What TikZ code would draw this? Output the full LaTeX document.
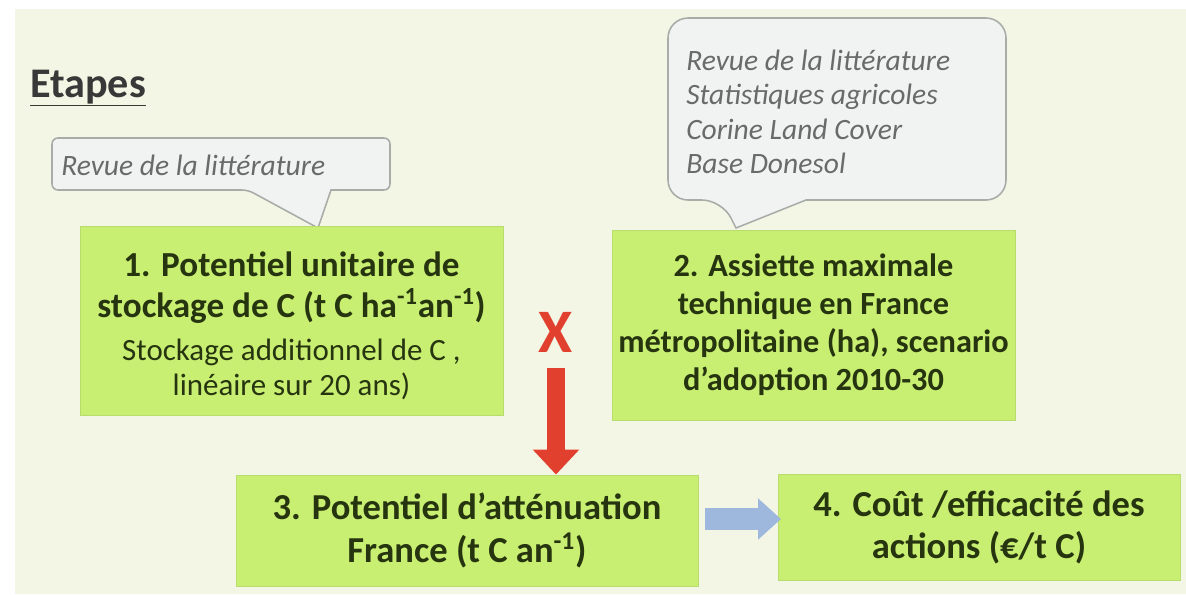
\documentclass[tikz,border=0pt]{standalone}
\usepackage{fontspec}
\setmainfont{Carlito}
\usetikzlibrary{arrows.meta}
\definecolor{bgc}{HTML}{F3F6E4}
\definecolor{boxc}{HTML}{C8EF72}
\definecolor{boxd}{HTML}{B9DC6E}
\definecolor{txtc}{HTML}{26340F}
\definecolor{calf}{HTML}{F1F3F2}
\definecolor{cald}{HTML}{A8ACA8}
\definecolor{calt}{HTML}{6A6A6A}
\definecolor{redc}{HTML}{E2402F}
\definecolor{bluec}{HTML}{9DB8DC}
\tikzset{
  stepbox/.style={rectangle, fill=boxc, draw=boxd, line width=0.6pt, inner sep=0pt, text=txtc, align=center},
  steptext/.style={inner sep=0pt, text=txtc, align=center},
  bfA/.style={font=\bfseries\fontsize{25}{29}\selectfont},
  bfB/.style={font=\bfseries\fontsize{26}{30}\selectfont},
  calloutshape/.style={fill=calf, draw=cald, line width=1.1pt},
  callouttext/.style={text=calt, font=\itshape\fontsize{21}{24.5}\selectfont, align=left, inner sep=0pt},
  redarrow/.style={draw=redc, line width=0.45cm, -{Triangle[width=1.125cm,length=0.625cm]}},
  bluearrow/.style={draw=bluec, line width=0.55cm, -{Triangle[width=1cm,length=0.575cm]}}
}
\begin{document}
\begin{tikzpicture}[x=0.025cm,y=-0.025cm]
\useasboundingbox (0,0) rectangle (1186,594);
\fill[bgc] (15,9) rectangle (1186,594);

% title
\node[anchor=base west, inner sep=0pt, text=black!78, font=\bfseries\fontsize{30}{34}\selectfont] (title) at (30,97) {\underline{Etapes}};

% callout 1
\draw[calloutshape, rounded corners=0.15cm] (331,190) -- (390,190) -- (390,138) -- (52,138) -- (52,190) -- (248,190) [sharp corners] -- (318,228) -- cycle;
\node[callouttext, anchor=west] (c1) at (61,165) {Revue de la littérature};

% callout 2
\draw[calloutshape, rounded corners=0.5cm] (806,200) -- (1006,200) -- (1006,18) -- (668,18) -- (668,200) -- (722,200) [sharp corners] -- (736,228) -- cycle;
\node[callouttext, anchor=west] (c2) at (686,112) {Revue de la littérature\\Statistiques agricoles\\Corine Land Cover\\Base Donesol};

% boxes
\node[stepbox, minimum width=10.575cm, minimum height=4.725cm] (b1) at (291.5,320.5) {};
\node[steptext, bfA] (b1t) at (291.5,326)
 {1. Potentiel unitaire de\\stockage de C (t C ha\textsuperscript{-1}an\textsuperscript{-1})\\[2pt]
  {\mdseries\fontsize{22}{25}\selectfont Stockage additionnel de C ,}\\[-4pt]
  {\mdseries\fontsize{22}{25}\selectfont linéaire sur 20 ans)}};
\node[stepbox, font=\bfseries\fontsize{23}{27}\selectfont, minimum width=10.075cm, minimum height=4.75cm] (b2) at (813.5,325)
 {2. Assiette maximale\\technique en France\\métropolitaine (ha), scenario\\d’adoption 2010-30};
\node[stepbox, bfB, minimum width=11.55cm, minimum height=2.775cm] (b3) at (467,530.5)
 {3. Potentiel d’atténuation\\France (t C an\textsuperscript{-1})};
\node[stepbox, bfB, minimum width=10.05cm, minimum height=2.65cm] (b4) at (979,527)
 {4. Coût /efficacité des\\actions (€/t C)};

% X and arrows
\node[text=redc, font=\bfseries\fontsize{44}{50}\selectfont, inner sep=0pt] (x) at (556,332) {X};
\coordinate (rs) at (556,368);
\draw[redarrow] (rs) -- (rs |- b3.north);
\coordinate (bs) at (705,519);
\coordinate (be) at (781,519);
\draw[bluearrow] (bs) -- (be);
\end{tikzpicture}
\end{document}
